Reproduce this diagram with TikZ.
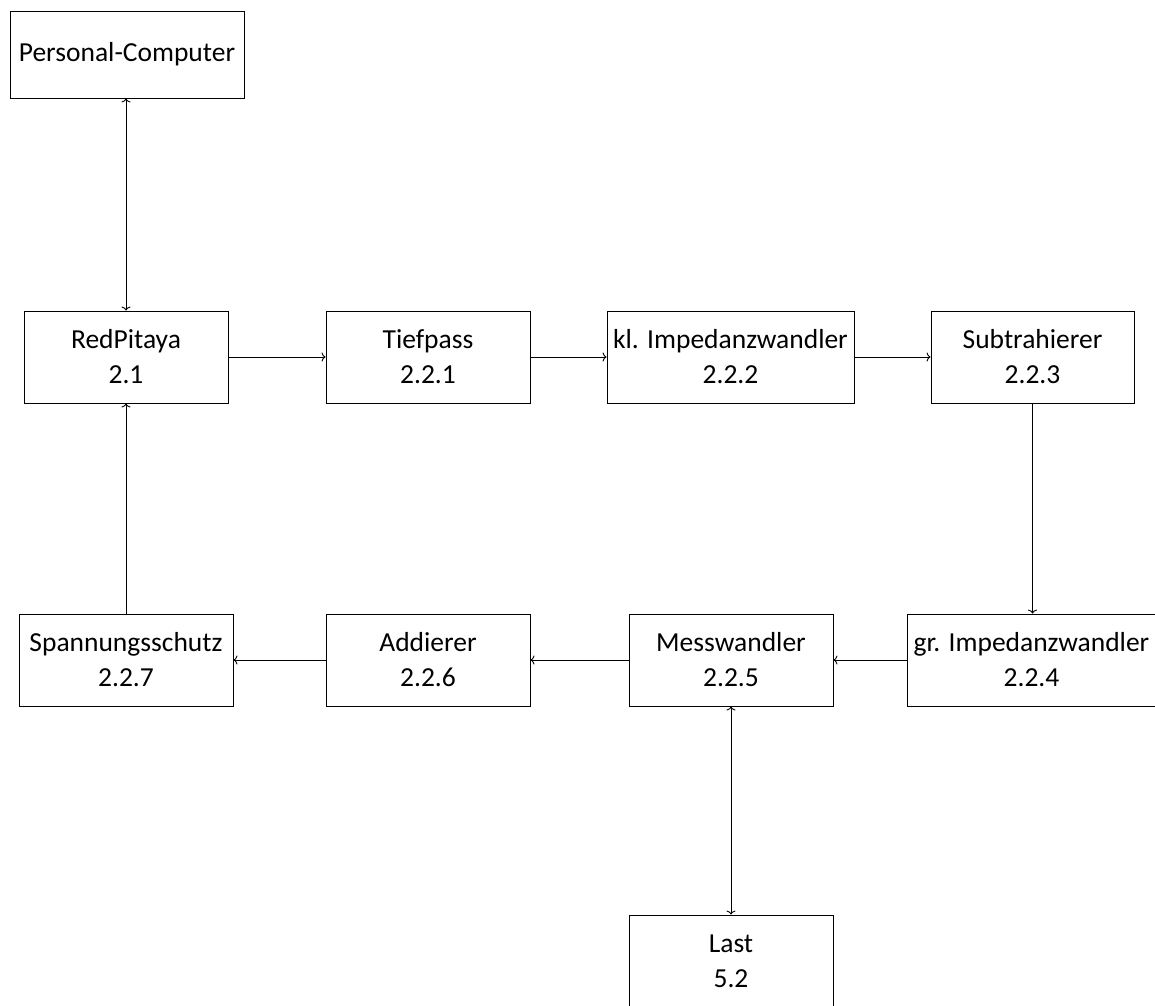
\documentclass[tikz,border=0pt]{standalone}
\usepackage{fontspec}
\setmainfont{Carlito}
\usetikzlibrary{arrows.meta}
\begin{document}
\begin{tikzpicture}[x=1pt,y=-1pt,
  blk/.style={draw, line width=0.9pt, align=center, minimum width=204pt, minimum height=92pt, inner xsep=6pt,
    font=\fontsize{27.5}{35}\selectfont},
  conn/.style={line width=0.9pt, -{To[length=4pt,width=9pt]}},
  biconn/.style={line width=0.9pt, {To[length=4pt,width=9pt]}-{To[length=4pt,width=9pt]}}]
\useasboundingbox (0,0) rectangle (1155,1005);
\clip (0,0) rectangle (1155,1005);
\node[blk, minimum width=234pt, minimum height=87pt] (pc) at (127,54.5) {Personal-Computer};
\node[blk] (rp) at (126,357) {RedPitaya\\2.1};
\node[blk] (tp) at (428,357) {Tiefpass\\2.2.1};
\node[blk, minimum width=247pt] (kl) at (730.5,357) {kl. Impedanzwandler\\2.2.2};
\node[blk, minimum width=203pt] (su) at (1032.5,357) {Subtrahierer\\2.2.3};
\node[blk, minimum width=214pt] (sp) at (126,660) {Spannungsschutz\\2.2.7};
\node[blk] (ad) at (428,660) {Addierer\\2.2.6};
\node[blk] (mw) at (731,660) {Messwandler\\2.2.5};
\node[blk, minimum width=244pt] (gr) at (1031.5,660) {gr. Impedanzwandler\\2.2.4};
\node[blk] (la) at (731,961) {Last\\5.2};
\draw[biconn] (pc.south -| rp.north) -- (rp.north);
\draw[conn] (rp) -- (tp);
\draw[conn] (tp) -- (kl);
\draw[conn] (kl) -- (su);
\draw[conn] (su) -- (gr.north -| su.south);
\draw[conn] (gr) -- (mw);
\draw[conn] (mw) -- (ad);
\draw[conn] (ad) -- (sp);
\draw[conn] (sp) -- (rp);
\draw[biconn] (mw) -- (la);
\end{tikzpicture}
\end{document}
